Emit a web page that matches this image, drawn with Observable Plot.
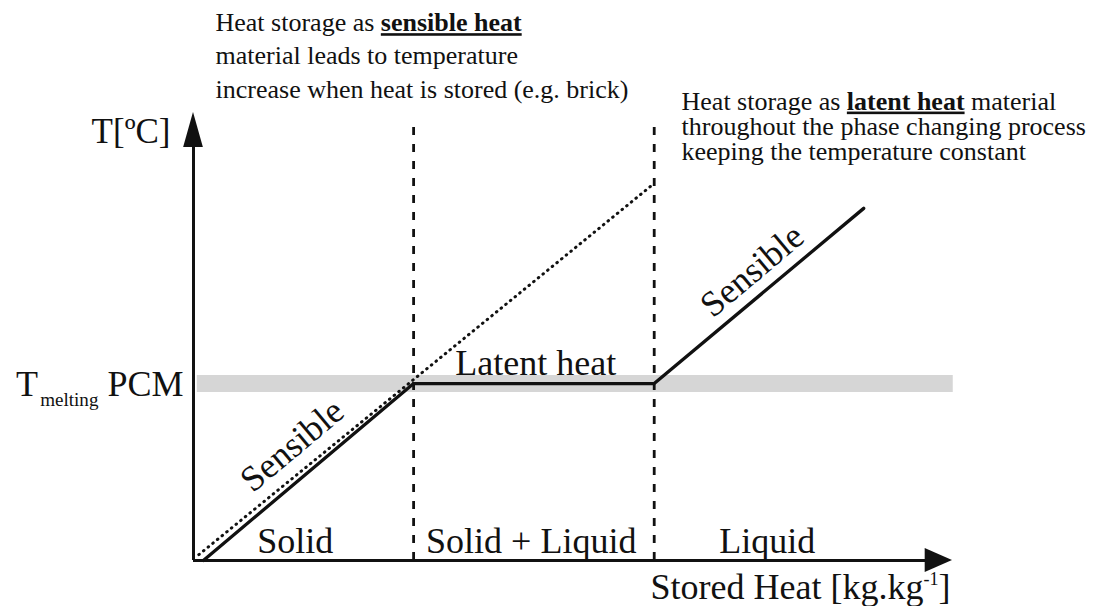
<!DOCTYPE html>
<html><head><meta charset="utf-8">
<script src="https://cdn.jsdelivr.net/npm/d3@7"></script>
<script src="https://cdn.jsdelivr.net/npm/@observablehq/plot@0.6"></script>
<style>
html,body{margin:0;padding:0;background:#fff;}
#chart svg{display:block;overflow:visible;}
#chart svg text, #chart svg tspan{font-family:"Liberation Serif","Times New Roman",serif !important;}
</style></head><body><div id="chart"></div>
<script>
// ---- data (arbitrary units: stored heat 0..100, temperature 0..100) ----
const phaseBoundaries = [29.0, 60.7];          // solid | solid+liquid | liquid
const meltingTemp = 39.5;                      // T melting PCM
const pcmHeat = [1.3, 29.0, 60.7, 88.3];       // PCM curve
const pcmTemp = [0, 39.5, 39.5, 78.6];
const brickHeat = [0.7, 60.5];                 // sensible-only material (brick)
const brickTemp = [1.3, 83.9];
const axisEnd = {x: 100, y: 100};
const phaseNames = ["Solid", "Solid + Liquid", "Liquid"];
const phaseNameX = [13.4, 44.5, 75.6];
const sensibleLabelX = [13.0, 73.6];
const sensibleLabelY = [25.7, 64.7];
const latentLabel = {text: "Latent heat", x: 45.1, y: 41.3};
const yTitle = "T[ºC]";
const meltLabel = "T_{melting} PCM";
const xTitle = "Stored Heat [kg.kg^{-1}]";
const noteSensible = "Heat storage as **sensible heat**\nmaterial leads to temperature\nincrease when heat is stored (e.g. brick)";
const noteLatent = "Heat storage as **latent heat** material\nthroughout the phase changing process\nkeeping the temperature constant";
const noteSensiblePos = {x: 2.9, y: 103.3};
const noteLatentPos = {x: 64.3, y: 89.4};

const pcm = pcmHeat.map((x, i) => ({x, y: pcmTemp[i]}));
const brick = brickHeat.map((x, i) => ({x, y: brickTemp[i]}));
const phases = phaseNames.map((t, i) => ({t, x: phaseNameX[i]}));
const sensibles = sensibleLabelX.map((x, i) => ({x, y: sensibleLabelY[i]}));

const FONT = "Liberation Serif";
const INK = "#111";
const big = 36, small = 26;

const plot = Plot.plot({
  width: 1094, height: 606,
  marginLeft: 193, marginRight: 142, marginTop: 112, marginBottom: 46,
  x: {domain: [0, 100], axis: null},
  y: {domain: [0, 100], axis: null},
  style: {fontFamily: FONT, background: "#fff", overflow: "visible", color: INK},
  marks: [
    // melting temperature band
    Plot.ruleY([meltingTemp], {x1: 0.5, x2: 100.1, stroke: "#d6d6d6", strokeWidth: 17}),
    // phase boundaries
    Plot.ruleX(phaseBoundaries, {y1: 0, y2: 98, stroke: INK, strokeWidth: 2.8, strokeDasharray: "8,9"}),
    // sensible-only material
    Plot.line(brick, {x: "x", y: "y", stroke: INK, strokeWidth: 3, strokeLinecap: "round", strokeDasharray: "0.6,5.4"}),
    // PCM curve
    Plot.line(pcm, {x: "x", y: "y", stroke: INK, strokeWidth: 3.3}),
    // axes
    Plot.ruleY([0], {x1: 0, x2: axisEnd.x - 3, stroke: INK, strokeWidth: 3}),
    Plot.ruleX([0], {y1: 0, y2: axisEnd.y - 6, stroke: INK, strokeWidth: 3}),
    Plot.areaY([{x: axisEnd.x - 3.6, y1: -2.7, y2: 2.7}, {x: axisEnd.x, y1: 0, y2: 0}], {x: "x", y1: "y1", y2: "y2", fill: INK}),
    Plot.areaX([{y: axisEnd.y - 7.8, x1: -1.3, x2: 1.3}, {y: axisEnd.y, x1: 0, x2: 0}], {y: "y", x1: "x1", x2: "x2", fill: INK}),
    // labels
    Plot.text(phases, {x: "x", y: 1.6, text: "t", fontSize: big, lineAnchor: "bottom", fill: INK}),
    Plot.text(sensibles, {x: "x", y: "y", text: () => "Sensible", rotate: -40, fontSize: big, fill: INK}),
    Plot.text([latentLabel], {x: "x", y: "y", text: "text", fontSize: big, lineAnchor: "bottom", fill: INK}),
    Plot.text([yTitle], {x: 0, y: 93.1, text: d => d, dx: -23, textAnchor: "end", lineAnchor: "bottom", fontSize: 35, fill: INK}),
    Plot.text([meltLabel], {x: 0, y: 36.8, text: d => d, dx: -10, textAnchor: "end", lineAnchor: "bottom", fontSize: big, fill: INK}),
    Plot.text([xTitle], {x: axisEnd.x, y: -8.5, text: d => d, dx: -2, textAnchor: "end", lineAnchor: "bottom", fontSize: big, fill: INK}),
    Plot.text([noteSensiblePos], {x: "x", y: "y", text: () => noteSensible, textAnchor: "start", lineAnchor: "bottom", lineHeight: 1.28, fontSize: small, fill: INK}),
    Plot.text([noteLatentPos], {x: "x", y: "y", text: () => noteLatent, textAnchor: "start", lineAnchor: "bottom", lineHeight: 0.97, fontSize: small, fill: INK})
  ]
});

// rich text: **bold underline**, _{sub}, ^{sup}
function richify(el, fs) {
  const s = el.textContent;
  if (!/\*\*|_\{|\^\{/.test(s)) return;
  const parts = s.split(/(\*\*[^*]+\*\*|_\{[^}]*\}|\^\{[^}]*\})/).filter(p => p !== "");
  while (el.firstChild) el.removeChild(el.firstChild);
  let pending = 0;
  const NS = "http://www.w3.org/2000/svg";
  for (const p of parts) {
    const t = document.createElementNS(NS, "tspan");
    if (p.startsWith("**")) {
      t.textContent = p.slice(2, -2);
      t.setAttribute("font-weight", "bold");
      t.setAttribute("text-decoration", "underline");
      t.style.textDecoration = "underline";
      if (pending) { t.setAttribute("dy", pending); pending = 0; }
    } else if (p.startsWith("_{")) {
      t.textContent = p.slice(2, -1);
      t.setAttribute("font-size", (fs * 0.53) + "px");
      const sh = fs * 0.28;
      t.setAttribute("dy", sh + pending); t.setAttribute("dx", fs * 0.06);
      pending = -sh;
    } else if (p.startsWith("^{")) {
      t.textContent = p.slice(2, -1);
      t.setAttribute("font-size", (fs * 0.5) + "px");
      const sh = -fs * 0.38;
      t.setAttribute("dy", sh + pending);
      pending = -sh;
    } else {
      t.textContent = p;
      if (pending) { t.setAttribute("dy", pending); pending = 0; }
    }
    el.appendChild(t);
  }
}
document.getElementById("chart").appendChild(plot);
plot.querySelectorAll("text").forEach(txt => {
  const g = txt.closest("g[font-size]");
  const fs = g ? parseFloat(g.getAttribute("font-size")) : big;
  const spans = txt.querySelectorAll(":scope > tspan");
  if (spans.length) spans.forEach(sp => richify(sp, fs)); else richify(txt, fs);
});
</script></body></html>
